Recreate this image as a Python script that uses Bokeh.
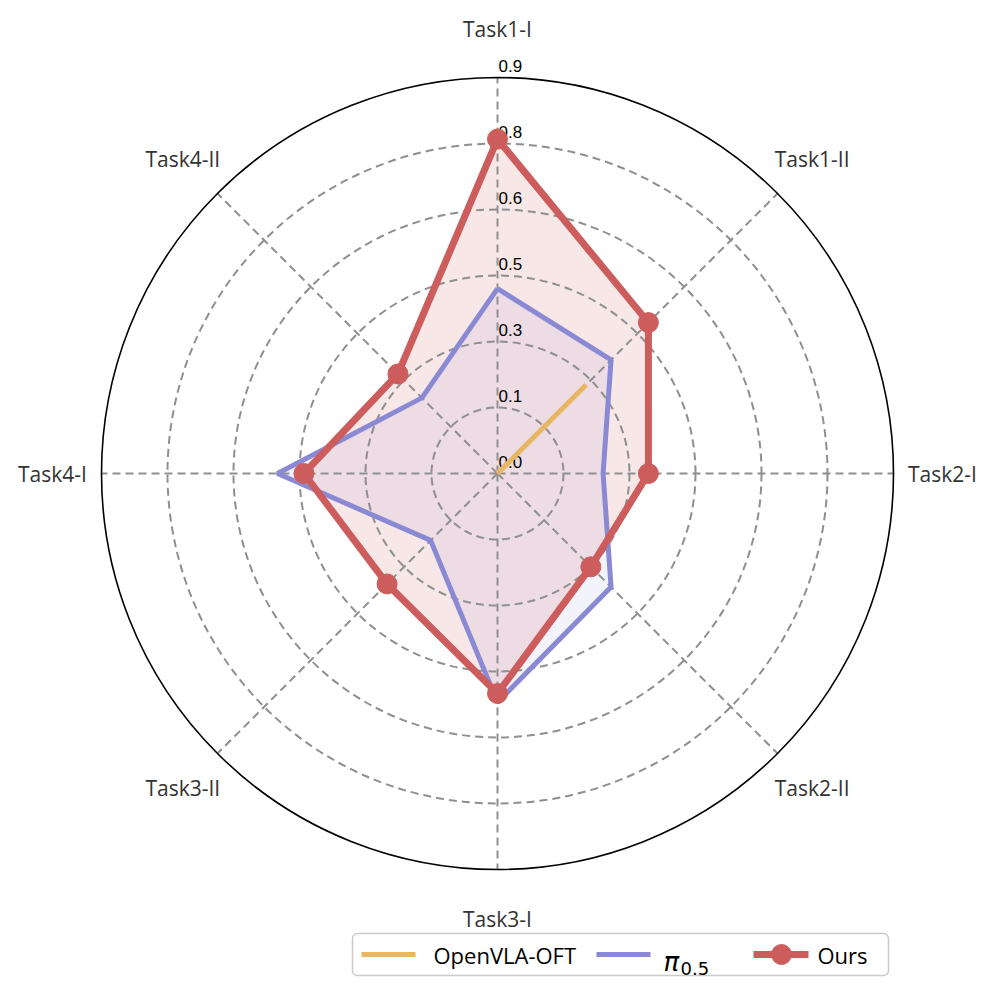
import numpy as np
from bokeh.plotting import figure
from bokeh.models import Range1d, BoxAnnotation
from bokeh.core.properties import value
from bokeh.embed import file_html
from bokeh.resources import INLINE

categories = ["Task1-I", "Task1-II", "Task2-I", "Task2-II", "Task3-I", "Task3-II", "Task4-I", "Task4-II"]
openvla = [0.0, 0.285, 0.0, 0.0, 0.0, 0.0, 0.0, 0.0]
pi05 = [0.42, 0.365, 0.24, 0.365, 0.52, 0.215, 0.50, 0.243]
ours = [0.76, 0.485, 0.343, 0.30, 0.50, 0.355, 0.44, 0.32]
rticks = [0.0, 0.15, 0.30, 0.45, 0.60, 0.75, 0.90]
rtick_labels = ["0.0", "0.1", "0.3", "0.5", "0.6", "0.8", "0.9"]
rmax = 0.9

W, H = 990, 984
S = 440.0          # px per unit
CX, CY = 497, 473  # centre in figure pixels

p = figure(width=W, height=H, output_backend="svg", toolbar_location=None,
           x_range=Range1d(-CX / S, (W - CX) / S), y_range=Range1d(-(H - CY) / S, CY / S),
           min_border=0)
p.axis.visible = False
p.grid.visible = False
p.outline_line_color = None
p.background_fill_color = "white"

def P(px, py):
    # screen pixel -> data coordinates
    return ((px - CX) / S, (CY - py) / S)

n = len(categories)
angles = np.pi / 2 - np.arange(n) * 2 * np.pi / n

def xy(vals):
    v = np.array(vals + vals[:1])
    a = np.concatenate([angles, angles[:1]])
    return v * np.cos(a), v * np.sin(a)

RED = "#CD5C5C"
BLUE = "#8A8AD4"
ORANGE = "#E9B764"
GRID = "#8f8f8f"

# legend box (underlay so its contents stay on top)
l, t = P(352, 933)
r_, b = P(888, 975)
p.add_layout(BoxAnnotation(left=l, right=r_, top=t, bottom=b, fill_color="white", fill_alpha=1,
                           line_color="#505050", line_width=1.5, border_radius=5, level="underlay"))

# fills
for vals, col, al in [(openvla, ORANGE, 0.10), (pi05, BLUE, 0.10), (ours, RED, 0.15)]:
    x, y = xy(vals)
    p.patch(x, y, fill_color=col, fill_alpha=al, line_color=None)

# grid circles
for r in rticks[1:-1]:
    p.circle(x=0, y=0, radius=r, fill_color=None, line_color=GRID, line_width=2, line_dash="8 5")
# spokes
for a in angles:
    p.line([0, rmax * np.cos(a)], [0, rmax * np.sin(a)], line_color=GRID, line_width=2, line_dash="8 5")

# radial tick labels
p.text(x=[0.0] * len(rticks), y=rticks, text=rtick_labels, text_align="left", text_baseline="bottom",
       x_offset=1, y_offset=-6, text_font=value("Liberation Sans"), text_font_size="17px", text_color="black")

# series lines
x, y = xy(openvla)
p.line(x, y, line_color=ORANGE, line_width=5)
x, y = xy(pi05)
p.line(x, y, line_color=BLUE, line_width=5)
x, y = xy(ours)
p.line(x, y, line_color=RED, line_width=7)
p.scatter(x[:-1], y[:-1], size=20, fill_color=RED, line_color=RED)

# outer circle
p.circle(x=0, y=0, radius=rmax, fill_color=None, line_color="black", line_width=1.6)

# category labels
lr = 445 / S
p.text(x=lr * np.cos(angles), y=lr * np.sin(angles), text=categories, text_align="center",
       text_baseline="middle", text_font=value("Open Sans"), text_font_size="21px", text_color="#333333")

# legend contents
ly = P(0, 954)[1]
x0, _ = P(361, 954); x1, _ = P(415, 954)
p.line([x0, x1], [ly, ly], line_color=ORANGE, line_width=5)
x0, _ = P(596, 954); x1, _ = P(650, 954)
p.line([x0, x1], [ly, ly], line_color=BLUE, line_width=5)
x0, _ = P(753, 954); x1, _ = P(808, 954); xm, _ = P(781, 954)
p.line([x0, x1], [ly, ly], line_color=RED, line_width=7)
p.scatter([xm], [ly], size=20, fill_color=RED, line_color=RED)
lf = value("Open Sans")
p.text(x=[P(433, 0)[0], P(817, 0)[0]], y=[ly, ly], text=["OpenVLA-OFT", "Ours"], text_align="left",
       text_baseline="middle", text_font=lf, text_font_size="22px", text_color="black")
p.text(x=[P(663, 0)[0]], y=[P(0, 961)[1]], text=["π"], text_align="left", text_baseline="alphabetic",
       text_font=value("DejaVu Sans"), text_font_style="italic", text_font_size="26px", text_color="black")
p.text(x=[P(680, 0)[0]], y=[P(0, 968)[1]], text=["0.5"], text_align="left", text_baseline="alphabetic",
       text_font=value("DejaVu Sans"), text_font_size="18px", text_color="black")

open("out.html", "w").write(file_html(p, INLINE))
